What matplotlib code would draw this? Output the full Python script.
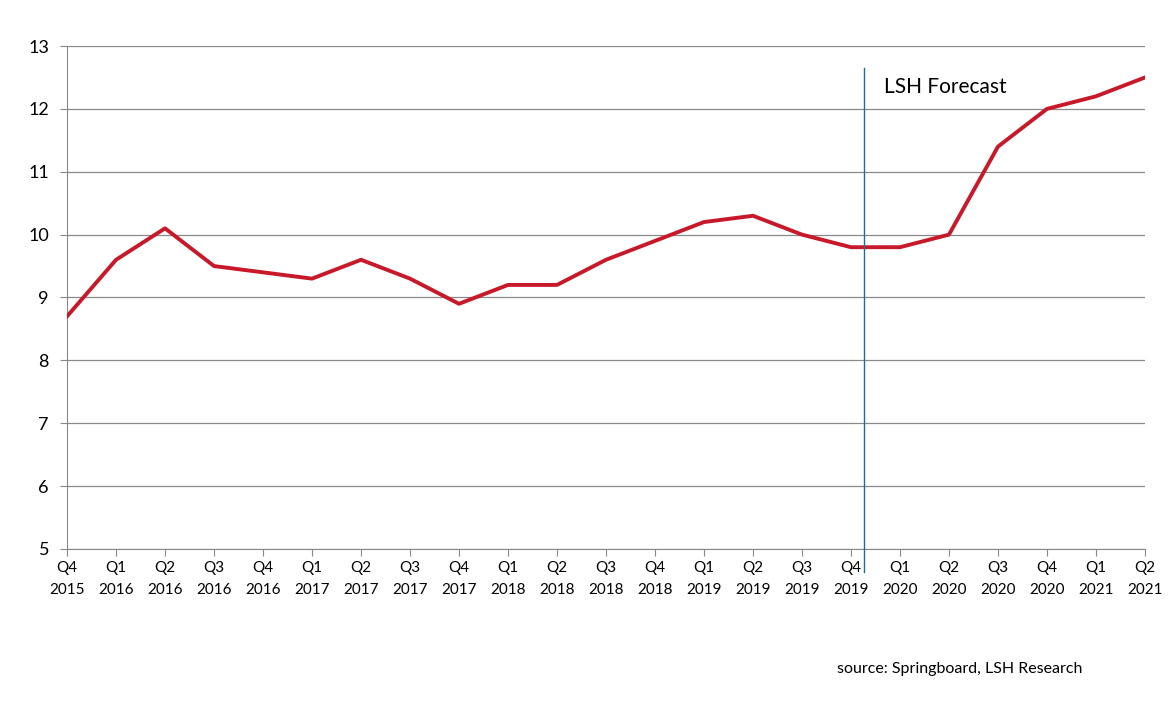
import matplotlib
matplotlib.use("Agg")
import matplotlib.pyplot as plt

quarters = ["Q4", "Q1", "Q2", "Q3", "Q4", "Q1", "Q2", "Q3", "Q4", "Q1", "Q2", "Q3",
            "Q4", "Q1", "Q2", "Q3", "Q4", "Q1", "Q2", "Q3", "Q4", "Q1", "Q2"]
years = ["2015", "2016", "2016", "2016", "2016", "2017", "2017", "2017", "2017",
         "2018", "2018", "2018", "2018", "2019", "2019", "2019", "2019",
         "2020", "2020", "2020", "2020", "2021", "2021"]
values = [8.7, 9.6, 10.1, 9.5, 9.4, 9.3, 9.6, 9.3, 8.9, 9.2, 9.2, 9.6,
          9.9, 10.2, 10.3, 10.0, 9.8, 9.8, 10.0, 11.4, 12.0, 12.2, 12.5]
forecast_x = 16.27

plt.rcParams['font.family'] = ['Lato', 'DejaVu Sans']

fig = plt.figure(figsize=(11.7, 7.09), dpi=100)
ax = fig.add_axes([0.0573, 0.2257, 0.9213, 0.7094])

x = list(range(len(values)))
ax.plot(x, values, color="#C8192B", linewidth=2.8, zorder=3)

ax.set_xlim(0, len(values) - 1)
ax.set_ylim(5, 13)
ax.set_yticks(range(5, 14))
ax.set_xticks(x)
ax.set_xticklabels([q + "\n" + y for q, y in zip(quarters, years)], fontsize=11, linespacing=1.65)
ax.tick_params(axis="y", labelsize=13, length=5, color="#898989", pad=8)
ax.tick_params(axis="x", length=5, color="#898989", pad=4)

ax.grid(axis="y", color="#898989", linewidth=0.9)
for s in ["top", "right"]:
    ax.spines[s].set_visible(False)
ax.spines["left"].set_color("#898989")
ax.spines["bottom"].set_color("#898989")

ax.plot([forecast_x, forecast_x], [4.63, 12.65], color="#1F6E8C", linewidth=1.0,
        clip_on=False, zorder=4)
ax.text(forecast_x + 0.4, 12.25, "LSH Forecast", fontsize=15, color="black")

fig.text(0.715, 0.051, "source: Springboard, LSH Research", fontsize=11.5)

fig.savefig("out.png", dpi=100)
